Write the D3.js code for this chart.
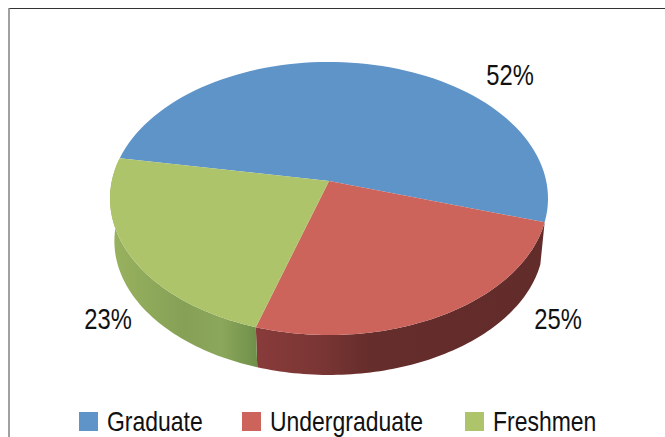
<!DOCTYPE html>
<html>
<head>
<meta charset="utf-8">
<script src="https://cdn.jsdelivr.net/npm/d3@7"></script>
<style>
    html, body {margin: 0; padding: 0; background: #fff; overflow: hidden;}
    text {font-family: "Liberation Sans", sans-serif; fill: #111;}
</style>
</head>
<body>
<div id="chart"></div>
<script>
const categories = ["Graduate", "Undergraduate", "Freshmen"];
const shares = [52, 25, 23];
const shareLabels = ["52%", "25%", "23%"];

function drawPie() {

    /**********************
    ***** BASIC SETUP *****
    **********************/

    const width = 665;
    const height = 437;

    const svg = d3.select("#chart").append("svg")
        .attr("width", width)
        .attr("height", height);

    const topColors = ["#5f94c9", "#cc645c", "#adc46a"];

    // perspective of the tilted disc, fitted to the picture
    const cx = 329, cy = 181;
    const rx = 217.2, ry = 134.3, tilt = 0.128;
    const baseDrop = 43, baseScale = 0.98;
    const firstAngle = -80 * Math.PI / 180;

    // the reference font is a narrow grotesque, squeeze Liberation Sans to fit
    const narrow = 0.82;

    function project(a, top) {
        const u = Math.sin(a), v = -Math.cos(a);
        const s = top ? 1 : baseScale;
        const d = 1 - tilt * v;
        return [cx + s * rx * u / d, cy + (top ? 0 : baseDrop) + s * ry * v / d];
    }

    const arcs = d3.pie().sort(null)
        .startAngle(firstAngle)
        .endAngle(firstAngle + 2 * Math.PI)(shares);

    const line = d3.line();

    function rim(a0, a1, top) {
        return d3.range(0, 81).map(i => project(a0 + (a1 - a0) * i / 80, top));
    }

    /****************
    ***** WALLS *****
    ****************/

    const defs = svg.append("defs");

    const wallStops = [
        [[0, "#883b3a"], [0.22, "#7a3634"], [0.4, "#652d2b"], [1, "#622c2a"]],
        [[0, "#98b25f"], [0.5, "#86a156"], [0.75, "#8ba75b"], [1, "#6f8f49"]]
    ];

    [1, 2].forEach((k, i) => {
        const pts = rim(arcs[k].startAngle, arcs[k].endAngle, false);
        const xs = pts.map(p => p[0]);
        const grad = defs.append("linearGradient")
            .attr("id", "wall" + k)
            .attr("gradientUnits", "userSpaceOnUse")
            .attr("x1", k === 1 ? d3.min(xs) : 110).attr("x2", k === 1 ? d3.max(xs) : 258)
            .attr("y1", 0).attr("y2", 0);
        grad.selectAll("stop")
            .data(wallStops[i])
            .enter().append("stop")
            .attr("offset", d => d[0])
            .attr("stop-color", d => d[1]);

        svg.append("path")
            .attr("d", line(rim(arcs[k].startAngle, arcs[k].endAngle, true)
                .concat(pts.reverse())) + "Z")
            .attr("fill", `url(#wall${k})`);
    });

    /*******************
    ***** TOP FACE *****
    *******************/

    svg.selectAll(".slice")
        .data(arcs)
        .enter().append("path")
        .attr("class", "slice")
        .attr("fill", (d, i) => topColors[i])
        .attr("d", d => line([[cx, cy]].concat(rim(d.startAngle, d.endAngle, true))) + "Z");

    /*****************
    ***** LABELS *****
    *****************/

    const labelPos = [[510, 85], [558, 329], [108, 329]];

    svg.selectAll(".shareLabel")
        .data(shareLabels)
        .enter().append("text")
        .attr("class", "shareLabel")
        .attr("transform", (d, i) => `translate(${labelPos[i][0]}, ${labelPos[i][1]}) scale(${narrow}, 1)`)
        .attr("text-anchor", "middle")
        .style("font-size", "29px")
        .text(d => d);

    /*****************
    ***** LEGEND *****
    *****************/

    const legendX = [79, 242, 465];

    const legend = svg.selectAll(".legendItem")
        .data(categories)
        .enter().append("g")
        .attr("class", "legendItem")
        .attr("transform", (d, i) => `translate(${legendX[i]}, 412)`);

    legend.append("rect")
        .attr("width", 19)
        .attr("height", 19)
        .attr("fill", (d, i) => topColors[i]);

    legend.append("text")
        .attr("transform", `translate(28, 19) scale(${narrow}, 1)`)
        .style("font-size", "28px")
        .text(d => d);

    /****************
    ***** FRAME *****
    ****************/

    svg.append("line")
        .attr("x1", 9).attr("x2", width)
        .attr("y1", 8.5).attr("y2", 8.5)
        .attr("stroke", "#333");

    svg.append("line")
        .attr("x1", 9).attr("x2", 9)
        .attr("y1", 8).attr("y2", height)
        .attr("stroke", "#808080")
        .attr("stroke-width", 1.5);
}

drawPie();
</script>
</body>
</html>
